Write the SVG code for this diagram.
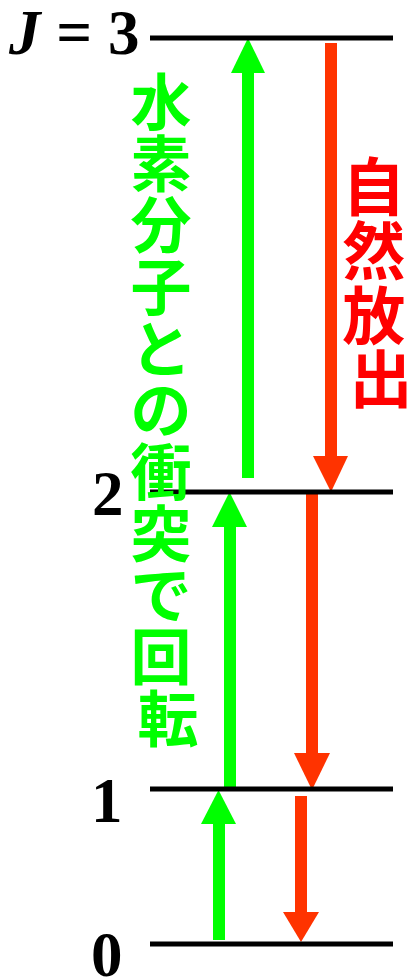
<svg xmlns="http://www.w3.org/2000/svg" width="413" height="977" viewBox="0 0 413 977">
  <style>
    .lvl { stroke: #000; stroke-width: 5; }
    .num { font-family: "Liberation Serif", "Times New Roman", serif; font-weight: bold; font-size: 63px; fill: #000; }
    .up { fill: #00FF00; }
    .down { fill: #FF3300; }
    .jg { font-family: "Noto Sans CJK JP", "Noto Sans", sans-serif; font-weight: bold; font-size: 61px; fill: #00FF00; text-anchor: middle; }
    .jr { font-family: "Noto Sans CJK JP", "Noto Sans", sans-serif; font-weight: bold; font-size: 63px; fill: #FF0000; text-anchor: middle; }
  </style>
  <rect width="413" height="977" fill="#fff"/>

  <g id="connectors">
    <g id="up-0-1" class="up">
      <rect x="213" y="823" width="12" height="117"/>
      <polygon points="218.5,790 201,824 236,824"/>
    </g>
    <g id="up-1-2" class="up">
      <rect x="224" y="526" width="12" height="262"/>
      <polygon points="229.5,492 212,527 247,527"/>
    </g>
    <g id="up-2-3" class="up">
      <rect x="242" y="72" width="12" height="406"/>
      <polygon points="248,38 231,73 265,73"/>
    </g>
    <g id="down-3-2" class="down">
      <rect x="325" y="43" width="12" height="414"/>
      <polygon points="313,456 348,456 331,492"/>
    </g>
    <g id="down-2-1" class="down">
      <rect x="306" y="492" width="12" height="262"/>
      <polygon points="294,753 330,753 312,790"/>
    </g>
    <g id="down-1-0" class="down">
      <rect x="295" y="796" width="12" height="117"/>
      <polygon points="283,912 319,912 301,942"/>
    </g>
  </g>

  <g id="level-3">
    <line class="lvl" x1="150" y1="38" x2="393" y2="38"/>
    <text class="num" x="9" y="54"><tspan font-style="italic">J</tspan> = 3</text>
  </g>
  <g id="level-2">
    <line class="lvl" x1="150" y1="492" x2="393" y2="492"/>
    <text class="num" x="92" y="515">2</text>
  </g>
  <g id="level-1">
    <line class="lvl" x1="150" y1="789" x2="393" y2="789"/>
    <text class="num" x="91" y="822">1</text>
  </g>
  <g id="level-0">
    <line class="lvl" x1="150" y1="944" x2="393" y2="944"/>
    <text class="num" x="91" y="976">0</text>
  </g>

  <g id="label-collision">
    <text class="jg">
      <tspan x="168" y="125">水</tspan>
      <tspan x="168" y="187">素</tspan>
      <tspan x="168" y="248">分</tspan>
      <tspan x="168" y="310">子</tspan>
      <tspan x="168" y="372">と</tspan>
      <tspan x="168" y="433">の</tspan>
      <tspan x="168" y="495">衝</tspan>
      <tspan x="168" y="557">突</tspan>
      <tspan x="168" y="618">で</tspan>
      <tspan x="168" y="680">回</tspan>
      <tspan x="168" y="742">転</tspan>
    </text>
  </g>
  <g id="label-emission">
    <text class="jr">
      <tspan x="381" y="210">自</tspan>
      <tspan x="381" y="274">然</tspan>
      <tspan x="381" y="339">放</tspan>
      <tspan x="381" y="402">出</tspan>
    </text>
  </g>
</svg>
